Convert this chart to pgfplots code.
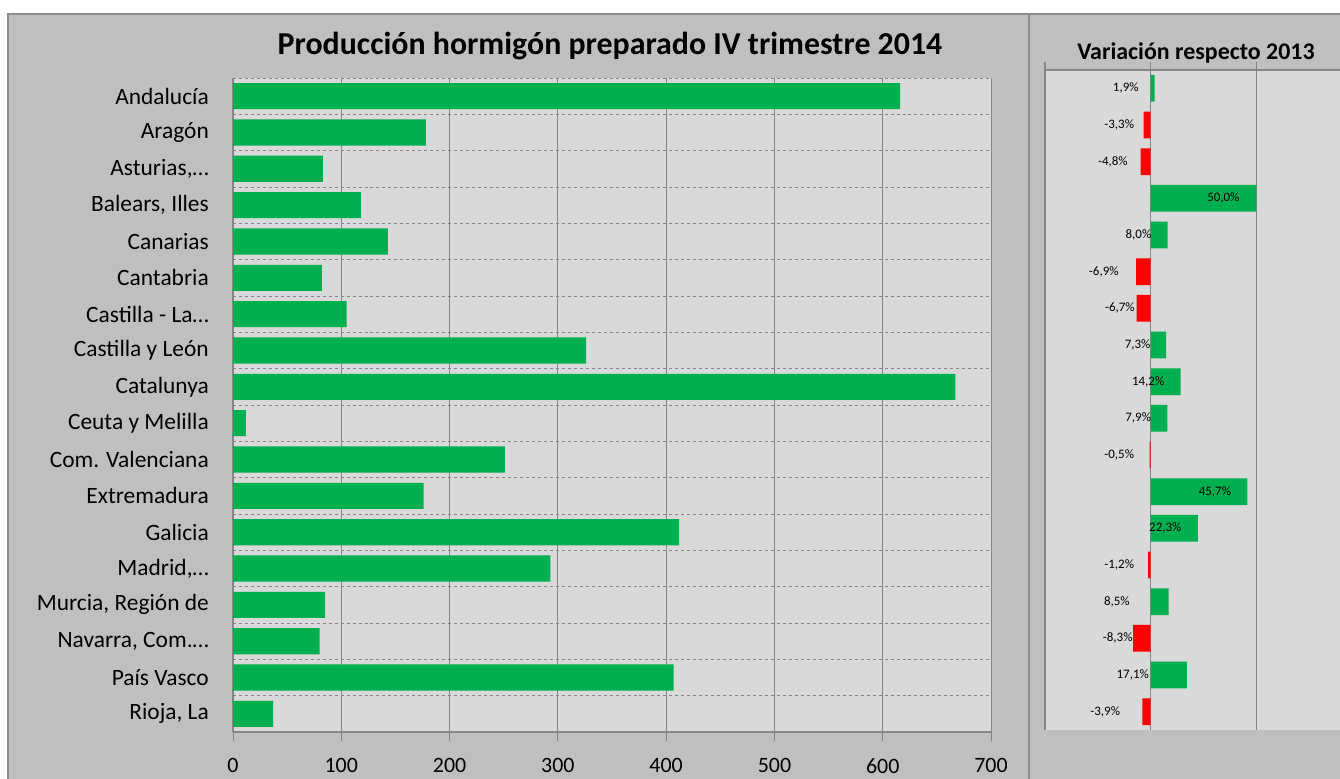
\documentclass[border=0pt]{standalone}
\usepackage{pgfplots}
\pgfplotsset{compat=1.18}
\usepackage{pgfplotstable}
\usepackage{fontspec}
\setmainfont{Carlito}
\definecolor{panel}{HTML}{BFBFBF}
\definecolor{plotbg}{HTML}{D9D9D9}
\definecolor{gridgray}{HTML}{868686}
\definecolor{bordergray}{HTML}{8C8C8C}
\definecolor{xlgreen}{HTML}{00B050}
\definecolor{xlred}{HTML}{FF0000}

\pgfplotstableread{
y val
0 616
1 178
2 83
3 118
4 143
5 82
6 105
7 326
8 667
9 12
10 251
11 176
12 412
13 293
14 85
15 80
16 407
17 37
}\prod

\pgfplotstableread{
y val
0 1.9
3 50.0
4 8.0
7 7.3
8 14.2
9 7.9
11 45.7
12 22.3
14 8.5
16 17.1
}\varpos

\pgfplotstableread{
y val
1 -3.3
2 -4.8
5 -6.9
6 -6.7
10 -0.5
13 -1.2
15 -8.3
17 -3.9
}\varneg

\pgfplotstableread{
y lx lab
0 -11.8 1,9
1 -14.9 -3,3
2 -17.9 -4,8
3 34.4 50,0
4 -5.8 8,0
5 -22.2 -6,9
6 -14.6 -6,7
7 -6.2 7,3
8 -1.2 14,2
9 -5.9 7,9
10 -14.9 -0,5
11 30.4 45,7
12 6.9 22,3
13 -14.9 -1,2
14 -16.0 8,5
15 -15.6 -8,3
16 -8.5 17,1
17 -21.5 -3,9
}\varlab

\begin{document}
\begin{tikzpicture}[x=1bp,y=1bp]
\useasboundingbox (0,0) rectangle (1340,778);
\clip (0,0) rectangle (1340,778);
\fill[white] (0,0) rectangle (1340,778);
\draw[draw=bordergray, line width=1.5bp, fill=panel] (8,-20) rectangle (1029,764);
\draw[draw=bordergray, line width=1.5bp, fill=panel] (1029,-20) rectangle (1360,764);
\node[font=\bfseries\fontsize{32}{38}\selectfont] at (610,732) {Producción hormigón preparado IV trimestre 2014};
\node[font=\bfseries\fontsize{24}{28}\selectfont] at (1196,725) {Variación respecto 2013};

\begin{axis}[
  at={(233bp,46bp)}, anchor=south west, scale only axis,
  width=758bp, height=654bp,
  xmin=0, xmax=700, ymin=-0.5, ymax=17.5, y dir=reverse,
  axis background/.style={fill=plotbg},
  axis x line*=bottom, axis y line*=left,
  axis line style={draw=gridgray, line width=1.5bp},
  xtick={0,100,...,700},
  xmajorgrids, major grid style={draw=gridgray, line width=1bp},
  ytick={0,...,17},
  yticklabels={Andalucía, Aragón, {Asturias,…}, {Balears, Illes}, Canarias, Cantabria, {Castilla - La…}, Castilla y León, Catalunya, Ceuta y Melilla, Com. Valenciana, Extremadura, Galicia, {Madrid,…}, {Murcia, Región de}, {Navarra, Com.…}, País Vasco, {Rioja, La}},
  minor ytick={-0.5,0.5,...,17.5},
  yminorgrids, minor grid style={draw=gridgray, dashed, line width=0.8bp},
  ytick style={draw=none},
  minor tick length=0pt,
  tick align=outside, major tick length=9bp,
  xtick style={draw=gridgray, line width=1bp},
  /pgf/number format/assume math mode=true,
  xticklabel style={font=\fontsize{22}{26}\selectfont, inner sep=0pt, anchor=north, yshift=-17bp},
  yticklabel style={font=\fontsize{23.5}{28}\selectfont, inner sep=0pt, anchor=east, xshift=-15bp},
]
\addplot[xbar, bar width=0.72, fill=xlgreen, draw=none] table[x=val, y=y] {\prod};
\end{axis}

\begin{axis}[
  at={(1045bp,48bp)}, anchor=south west, scale only axis,
  width=317bp, height=660bp,
  xmin=-50, xmax=100, ymin=-0.5, ymax=17.5, y dir=reverse,
  axis background/.style={fill=plotbg},
  axis x line*=top, axis y line*=left,
  axis line style={draw=gridgray, line width=1.5bp},
  xtick={-50,0,50,100}, xticklabels={},
  xmajorgrids, major grid style={draw=gridgray, line width=1.5bp},
  ytick=\empty,
  minor ytick={-0.5,0.5,...,17.5},
  yminorgrids, minor grid style={draw=gridgray, dashed, line width=0.8bp},
  minor tick length=0pt,
  tick align=outside, major tick length=8bp,
  xtick style={draw=gridgray, line width=1.5bp},
]
\addplot[xbar, bar width=0.73, bar shift=0pt, fill=xlgreen, draw=none] table[x=val, y=y] {\varpos};
\addplot[xbar, bar width=0.73, bar shift=0pt, fill=xlred, draw=none] table[x=val, y=y] {\varneg};
\addplot[draw=none, mark=none, point meta=explicit symbolic,
  nodes near coords={\pgfplotspointmeta\%},
  every node near coord/.append style={anchor=center, inner sep=0pt, font=\fontsize{13}{15}\selectfont, text=black}]
  table[x=lx, y=y, meta=lab] {\varlab};
\end{axis}
\end{tikzpicture}
\end{document}
